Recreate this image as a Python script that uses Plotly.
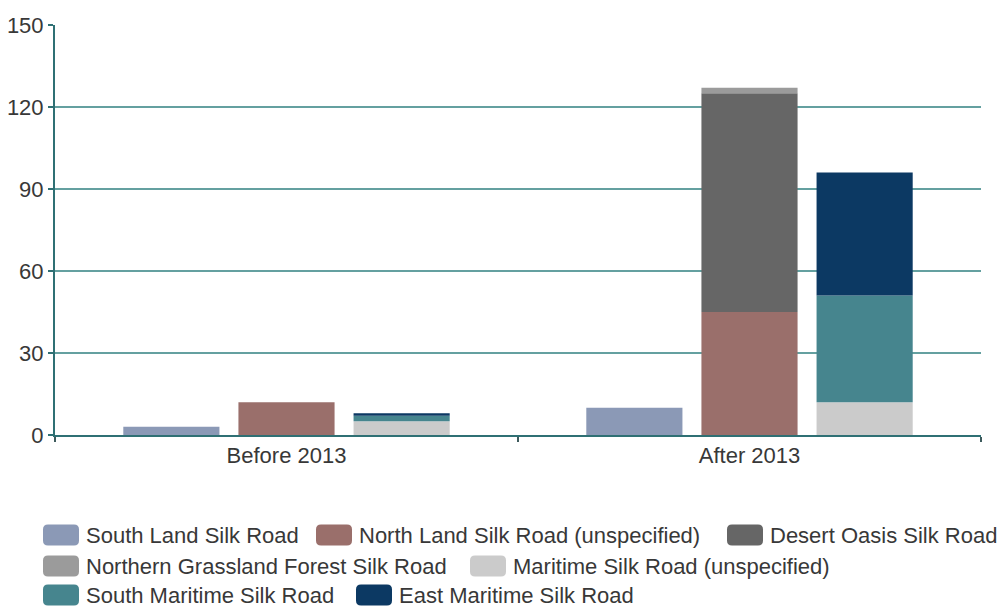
import plotly.graph_objects as go

# ---- data ----
categories = ["Before 2013", "After 2013"]
series_names = [
    "South Land Silk Road",
    "North Land Silk Road (unspecified)",
    "Desert Oasis Silk Road",
    "Northern Grassland Forest Silk Road",
    "Maritime Silk Road (unspecified)",
    "South Maritime Silk Road",
    "East Maritime Silk Road",
]
south_land = [3, 10]
north_land = [12, 45]
desert_oasis = [0, 80]
northern_grassland = [0, 2]
maritime_unspec = [5, 12]
south_maritime = [2, 39]
east_maritime = [1, 45]
stack_of_series = ["a", "b", "b", "b", "c", "c", "c"]
y_ticks = [0, 30, 60, 90, 120, 150]

# ---- style ----
colors = ["#8b99b6", "#9a6f6b", "#666666", "#9b9b9b", "#cbcbcb", "#46858e", "#0c3963"]
FONT = "Liberation Sans"
TXT = "#383838"
AXIS = "#2f7074"
GRID = "#64a0a0"

values = [south_land, north_land, desert_oasis, northern_grassland,
          maritime_unspec, south_maritime, east_maritime]

fig = go.Figure()
bases = {}
for name, vals, col, grp in zip(series_names, values, colors, stack_of_series):
    base = bases.get(grp, [0] * len(categories))
    fig.add_trace(go.Bar(
        x=categories, y=vals, base=base, name=name, offsetgroup=grp,
        marker=dict(color=col, line=dict(width=0)), showlegend=False,
    ))
    bases[grp] = [b + v for b, v in zip(base, vals)]

W, H = 1004, 608
L, R, T, B = 55, 23, 25, 173
pw, ph = W - L - R, H - T - B


def px(x):
    return (x - L) / pw


def py(y):
    return (H - B - y) / ph


# custom legend (rounded swatches) -- pixel layout
legend_pos = [(43, 535), (316, 535), (727, 535),
              (43, 566), (470, 566),
              (43, 595), (356, 595)]
shapes = []
annotations = []
sw_w, sw_h, rad = 36, 21, 5
for (x0, yc), name, col in zip(legend_pos, series_names, colors):
    x1 = x0 + sw_w
    y0 = yc - sw_h / 2
    y1 = yc + sw_h / 2
    pts = (
        f"M {px(x0 + rad)},{py(y0)} L {px(x1 - rad)},{py(y0)} "
        f"Q {px(x1)},{py(y0)} {px(x1)},{py(y0 + rad)} "
        f"L {px(x1)},{py(y1 - rad)} Q {px(x1)},{py(y1)} {px(x1 - rad)},{py(y1)} "
        f"L {px(x0 + rad)},{py(y1)} Q {px(x0)},{py(y1)} {px(x0)},{py(y1 - rad)} "
        f"L {px(x0)},{py(y0 + rad)} Q {px(x0)},{py(y0)} {px(x0 + rad)},{py(y0)} Z"
    )
    shapes.append(dict(type="path", xref="paper", yref="paper", path=pts,
                       fillcolor=col, line=dict(width=0), layer="above"))
    annotations.append(dict(x=px(x1 + 5), y=py(yc), xref="paper", yref="paper",
                            text=name, showarrow=False, xanchor="left", yanchor="middle",
                            font=dict(family=FONT, size=22, color=TXT)))

fig.update_layout(
    width=W, height=H,
    margin=dict(l=L, r=R, t=T, b=B, pad=0),
    paper_bgcolor="white", plot_bgcolor="white",
    barmode="group", bargap=0.254, bargroupgap=0.165,
    font=dict(family=FONT, size=22, color=TXT),
    shapes=shapes, annotations=annotations,
    showlegend=False,
)
fig.update_xaxes(
    type="category", showline=True, linecolor=AXIS, linewidth=2, automargin=False,
    ticks="outside", tickson="boundaries", ticklen=5, tickwidth=2, tickcolor="#3d5a5c",
    showgrid=False, tickfont=dict(family=FONT, size=22, color=TXT),
)
fig.update_yaxes(
    range=[0, 150], tickvals=y_ticks, showline=True, linecolor=AXIS, linewidth=2,
    automargin=False,
    ticks="outside", ticklen=5, tickwidth=2, tickcolor=AXIS,
    showgrid=True, gridcolor=GRID, gridwidth=1.5, zeroline=False,
    tickfont=dict(family=FONT, size=22, color=TXT),
)

fig.write_html("out.html")
